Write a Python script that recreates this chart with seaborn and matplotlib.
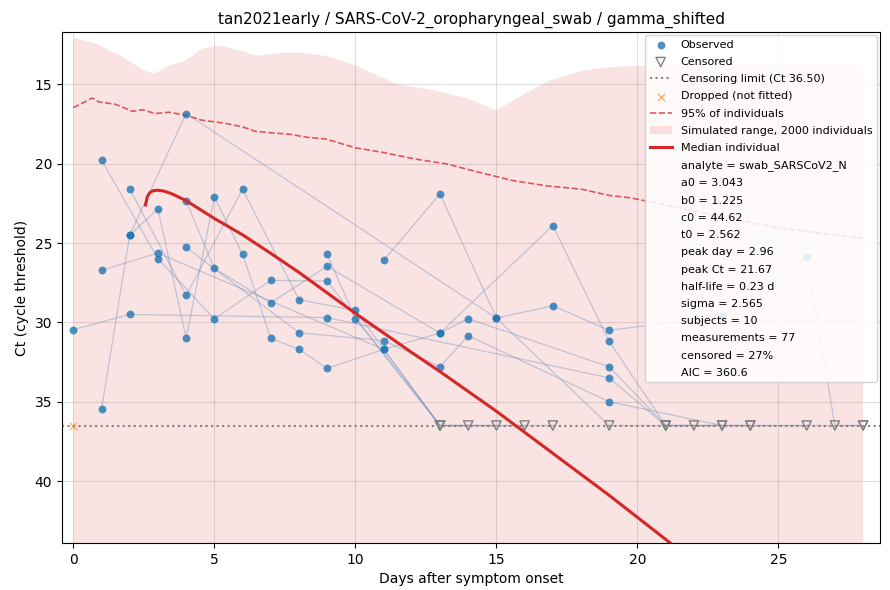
import matplotlib
matplotlib.use("Agg")
import matplotlib.pyplot as plt
import seaborn as sns
import pandas as pd
from matplotlib.lines import Line2D

# measurements per subject (censored values sit at the limit)
subject_id = (
    [1] * 6 + [2] * 10 + [3] * 11 + [4] * 7 + [5] * 7
    + [6] * 8 + [7] * 9 + [8] * 8 + [9] * 4 + [10] * 6
)
day = [
    0, 2, 9, 19, 21, 23,
    1, 2, 4, 15, 17, 19, 23, 26, 27, 28,
    2, 3, 4, 5, 6, 7, 8, 9, 11, 13, 14,
    1, 3, 5, 7, 9, 13, 16,
    2, 4, 6, 8, 10, 13, 15,
    1, 3, 11, 13, 14, 19, 21, 22,
    4, 5, 7, 9, 13, 17, 19, 21, 24,
    4, 8, 11, 13, 14, 19, 23, 26,
    9, 10, 13, 17,
    11, 13, 15, 19, 24, 28,
]
ct = [
    30.46, 29.5, 29.7, 33.5, 36.5, 36.5,
    35.46, 24.5, 16.84, 29.73, 28.95, 30.5, 29.6, 25.9, 36.5, 36.5,
    24.5, 22.85, 31.0, 22.1, 25.7, 31.0, 31.7, 32.9, 31.7, 36.5, 36.5,
    19.77, 25.99, 29.77, 27.35, 27.4, 36.5, 36.5,
    21.59, 28.3, 21.6, 28.57, 29.25, 36.5, 36.5,
    26.72, 25.63, 31.7, 30.67, 29.77, 32.8, 36.5, 36.5,
    22.35, 26.6, 28.76, 26.47, 30.67, 23.9, 31.2, 36.5, 36.5,
    25.27, 30.65, 31.15, 32.8, 30.84, 35.0, 36.5, 36.5,
    25.7, 29.77, 36.5, 36.5,
    26.1, 21.9, 29.73, 36.5, 36.5, 36.5,
]
censored = [c >= 36.5 for c in ct]

dropped_day = [0]
dropped_ct = [36.5]

# simulated envelope, 95% curve and median individual
fill_day = [0, 0.8, 1.75, 2.55, 2.9, 3.4, 4.0, 4.55, 5.15, 6.0, 6.5, 7.3, 8.1,
            9.05, 10.0, 10.5, 11.5, 12.8, 14.0, 15.0, 16.0, 16.9, 18.1, 19.3,
            20.1, 22, 24, 26, 28]
fill_top = [12.06, 12.44, 13.28, 14.16, 14.33, 13.8, 13.49, 12.75, 12.55, 12.9,
            13.2, 13.03, 13.0, 13.24, 13.8, 14.22, 15.0, 15.38, 15.9, 16.64,
            15.59, 14.75, 14.12, 13.87, 13.85, 13.8, 13.8, 13.8, 13.8]

p95_day = [0, 0.67, 0.9, 1.5, 2.1, 2.45, 2.9, 3.4, 4.0, 4.55, 5.3, 6.0, 6.45,
           7.05, 7.65, 8.35, 8.95, 10.0, 10.9, 12.1, 13.25, 14.4, 15.6, 16.8,
           18.0, 19.0, 19.75, 21, 22.7, 25, 28]
p95_ct = [16.47, 15.86, 16.1, 16.26, 16.7, 16.6, 16.84, 16.76, 16.95, 17.26,
          17.43, 17.68, 17.96, 18.06, 18.14, 18.35, 18.44, 19.0, 19.26, 19.7,
          20.02, 20.55, 21.07, 21.4, 21.6, 22.0, 22.15, 22.6, 23.24, 24.06, 24.7]

med_day = [2.56, 2.62, 2.7, 2.8, 2.96, 3.2, 3.5, 4.0, 5.0, 6.0, 7.0, 8.0, 10.0,
           12.0, 13.0, 15.0, 17.0, 19.0, 21.2]
med_ct = [22.6, 22.1, 21.85, 21.72, 21.67, 21.72, 21.9, 22.33, 23.45, 24.48,
          25.65, 26.85, 29.43, 31.9, 33.1, 35.6, 38.25, 40.9, 43.95]

fit_text = [
    "analyte = swab_SARSCoV2_N", "a0 = 3.043", "b0 = 1.225", "c0 = 44.62",
    "t0 = 2.562", "peak day = 2.96", "peak Ct = 21.67", "half-life = 0.23 d",
    "sigma = 2.565", "subjects = 10", "measurements = 77", "censored = 27%",
    "AIC = 360.6",
]

df = pd.DataFrame({"subject": subject_id, "day": day, "ct": ct, "censored": censored})
obs = df[~df["censored"]]
cens = df[df["censored"]]

red = "#d62728"
blue = "#1f77b4"

fig, ax = plt.subplots(figsize=(8.9, 5.9), dpi=100)

ax.fill_between(fill_day, fill_top, 50, color=red, alpha=0.13, lw=0,
                label="Simulated range, 2000 individuals")
sns.lineplot(x=p95_day, y=p95_ct, color=red, alpha=0.75, lw=1.2, ls="--",
             label="95% of individuals", ax=ax)

sns.lineplot(data=df, x="day", y="ct", units="subject", estimator=None,
             sort=False, color="#5b84b8", alpha=0.35, lw=0.9, legend=False, ax=ax)

ax.axhline(36.5, color="gray", ls=":", lw=1.5, label="Censoring limit (Ct 36.50)")

sns.scatterplot(data=obs, x="day", y="ct", color=blue, s=32, alpha=0.8,
                linewidth=0, label="Observed", ax=ax, zorder=3)
sns.scatterplot(data=cens, x="day", y="ct", marker="v", s=45, facecolor="none",
                edgecolor="gray", linewidth=1.0, label="Censored", ax=ax, zorder=3)
sns.scatterplot(x=dropped_day, y=dropped_ct, marker="x", color="#ff7f0e",
                s=28, alpha=0.6, linewidth=1.0, label="Dropped (not fitted)",
                ax=ax, zorder=3)

sns.lineplot(x=med_day, y=med_ct, color=red, lw=2.2, sort=False,
             label="Median individual", ax=ax, zorder=4)

ax.set_xlim(-0.4, 28.6)
ax.set_ylim(43.9, 11.7)
ax.set_xticks([0, 5, 10, 15, 20, 25])
ax.set_yticks([15, 20, 25, 30, 35, 40])
ax.grid(True, color="#b0b0b0", alpha=0.4, lw=0.8)
ax.set_axisbelow(True)

ax.set_title("tan2021early / SARS-CoV-2_oropharyngeal_swab / gamma_shifted", fontsize=11)
ax.set_xlabel("Days after symptom onset")
ax.set_ylabel("Ct (cycle threshold)")

handles, labels = ax.get_legend_handles_labels()
order = ["Observed", "Censored", "Censoring limit (Ct 36.50)", "Dropped (not fitted)",
         "95% of individuals", "Simulated range, 2000 individuals", "Median individual"]
lookup = dict(zip(labels, handles))
hs = [lookup[o] for o in order]
ls = list(order)
for t in fit_text:
    hs.append(Line2D([], [], linestyle="none"))
    ls.append(t)
ax.legend(hs, ls, loc="upper right", fontsize=8, framealpha=0.85,
          labelspacing=0.65, borderaxespad=0.3)

fig.subplots_adjust(left=0.0697, right=0.9888, top=0.9458, bottom=0.0797)
plt.savefig("out.png", dpi=100)
